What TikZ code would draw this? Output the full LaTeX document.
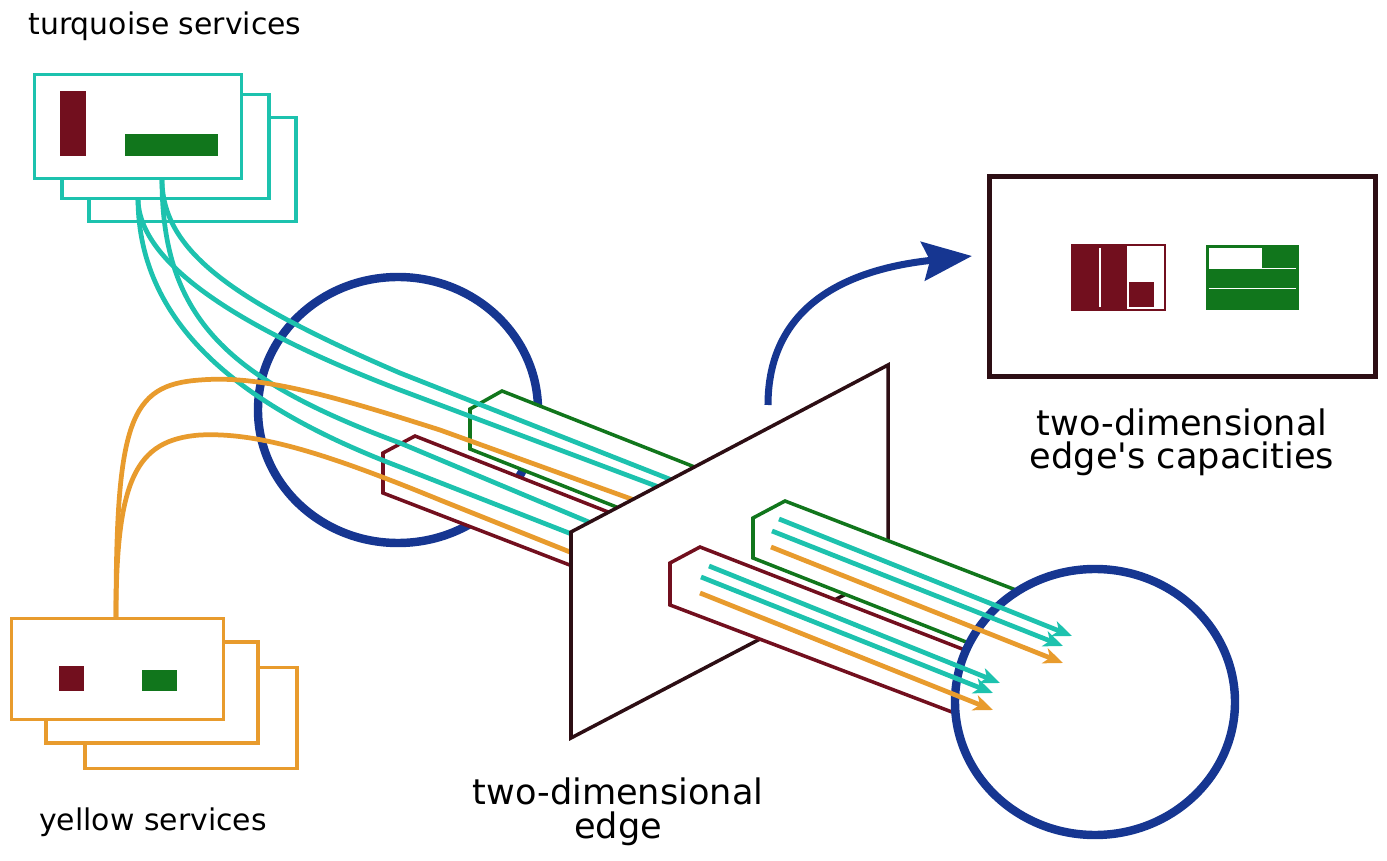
\documentclass[tikz,border=0pt]{standalone}
\usepackage{fontspec}
\setmainfont{DejaVu Sans}
\usetikzlibrary{arrows.meta}

\definecolor{turq}{RGB}{29,194,174}
\definecolor{ylw}{RGB}{232,155,45}
\definecolor{wine}{RGB}{114,15,30}
\definecolor{leaf}{RGB}{17,118,28}
\definecolor{navy}{RGB}{22,54,145}
\definecolor{ink}{RGB}{45,14,20}

\tikzset{
	svcbox/.style={draw=#1, line width=2pt, fill=white, rectangle, inner sep=0pt},
	flow/.style={draw=#1, line width=2.7pt},
	pipe/.style={draw=#1, line width=2pt, fill=white, line join=miter},
	ring/.style={draw=navy, line width=4.8pt, fill=white},
	flowtip/.style={-{Stealth[length=11pt,width=9pt,inset=3pt]}},
	smalltxt/.style={font=\fontsize{17}{19}\selectfont, anchor=base},
	bigtxt/.style={font=\fontsize{20}{19.3}\selectfont, align=center, anchor=base},
}

\begin{document}
\begin{tikzpicture}[x=0.02cm, y=-0.02cm]

	\useasboundingbox (0,0) rectangle (1387,861);

	% incoming side
	\draw[ring] (398,410) ellipse [x radius=140, y radius=133];
	\draw[pipe=leaf] (470,449) -- (470,409) -- (502,391) -- (720,477) -- (720,548) -- cycle;
	\draw[pipe=wine] (383,493) -- (383,453) -- (415,436) -- (720,556) -- (720,623) -- cycle;

	% yellow services
	\foreach \i/\cx/\cy in {3/191/718, 2/152/692.5, 1/117.5/669}
	{
		\node[svcbox=ylw, minimum width=4.24cm, minimum height=2.02cm] (yw\i) at (\cx,\cy) {};
	}
	\fill[wine] (59,666) rectangle (84,691);
	\fill[leaf] (142,670) rectangle (177,691);

	% turquoise services
	\foreach \i/\cx/\cy in {3/192.5/169.5, 2/165.5/146.5, 1/138/126.5}
	{
		\node[svcbox=turq, minimum width=4.14cm, minimum height=2.08cm] (tq\i) at (\cx,\cy) {};
	}
	\fill[wine] (60,91) rectangle (86,156);
	\fill[leaf] (125,134) rectangle (218,156);

	\coordinate (tqR) at (162,179);
	\coordinate (tqL) at (138,198);
	\coordinate (ywT) at (116,619);

	% flows towards the edge
	\draw[flow=turq] (tqR) .. controls (162,250) and (230,300) .. (400,373) -- (720,499);
	\draw[flow=turq] (tqL) .. controls (138,260) and (230,325) .. (400,390) -- (720,510);
	\draw[flow=turq] (tqR) .. controls (162,320) and (230,380) .. (400,443) -- (720,577);
	\draw[flow=turq] (tqL) .. controls (138,330) and (250,410) .. (400,467) -- (720,592);
	\draw[flow=ylw] (ywT) .. controls (116,420) and (130,385) .. (200,380)
		.. controls (260,375) and (330,395) .. (440,430) -- (720,531);
	\draw[flow=ylw] (ywT) .. controls (116,480) and (135,440) .. (200,435)
		.. controls (260,432) and (330,455) .. (440,500) -- (720,612);

	% the edge
	\draw[ink, line width=2pt, fill=white, line join=miter] (571,532) -- (888,365) -- (888,572) -- (571,738) -- cycle;

	% outgoing side
	\draw[pipe=leaf] (753,558) -- (753,518) -- (785,501) -- (1060,607) -- (1060,679) -- cycle;
	\draw[pipe=wine] (670,605) -- (670,563) -- (700,547) -- (1060,687) -- (1060,753) -- cycle;
	\draw[ring] (1095,702) ellipse [x radius=140, y radius=133];

	\foreach \c/\ax/\ay/\bx/\by in {turq/779/519/1072/636, turq/772/531/1063/646, ylw/771/547/1063/663,
		turq/709/566/1000/683, turq/701/577/993/693, ylw/700/593/993/710}
	{
		\draw[flow=\c, flowtip] (\ax,\ay) -- (\bx,\by);
	}

	% capacities
	\node[draw=ink, line width=3pt, minimum width=7.72cm, minimum height=4cm, inner sep=0pt] (cap) at (1182.5,276.5) {};
	\draw[wine, line width=1.2pt] (1072,245) rectangle (1165,310);
	\fill[wine] (1072,245) rectangle (1127,310);
	\draw[white, line width=1pt] (1100,248) -- (1100,307);
	\fill[wine] (1129,282) rectangle (1154,307);
	\fill[leaf] (1206,245) rectangle (1299,310);
	\fill[white] (1209,248) rectangle (1262,268);
	\draw[white, line width=1pt] (1209,268.5) -- (1296,268.5);
	\draw[white, line width=1pt] (1209,288.5) -- (1296,288.5);

	\coordinate (zoomfrom) at (768,405);
	\coordinate (zoomto) at (972,256);
	\draw[navy, line width=4pt, -{Stealth[length=28pt,width=22pt,inset=4pt]}] (zoomfrom) .. controls (768,310) and (840,270) .. (zoomto);

	% labels
	\node[smalltxt] (tqlabel) at (165,35) {turquoise services};
	\node[smalltxt] (ywlabel) at (153,830) {yellow services};
	\node[bigtxt] (edgelabel) at (618,838) {two-dimensional\\edge};
	\node[bigtxt] (caplabel) at (1182,469) {two-dimensional\\edge\textquotesingle s capacities};

\end{tikzpicture}
\end{document}
